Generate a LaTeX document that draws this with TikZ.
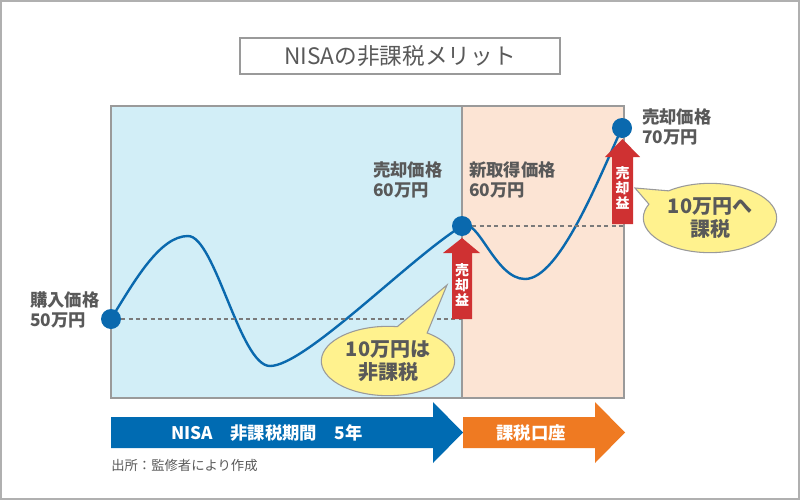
\documentclass[tikz,border=0pt]{standalone}
\usepackage{fontspec}
\setmainfont{Noto Sans CJK JP}
\usepackage{tikz}
\usetikzlibrary{shapes.callouts,calc}
\definecolor{txtgray}{HTML}{595959}
\definecolor{framegray}{HTML}{9A9A9A}
\definecolor{outergray}{HTML}{B0B0B0}
\definecolor{nisablue}{HTML}{D2EEF7}
\definecolor{taxpeach}{HTML}{FCE4D4}
\definecolor{lineblue}{HTML}{0A69AE}
\definecolor{gainred}{HTML}{CF3132}
\definecolor{noteyellow}{HTML}{FFF28E}
\definecolor{barblue}{HTML}{006BB2}
\definecolor{barorange}{HTML}{EF7A22}

\begin{document}
\begin{tikzpicture}[x=0.75pt, y=-0.75pt,
  price/.style={anchor=west, align=left, inner sep=0pt, text=txtgray, font=\bfseries\fontsize{13}{15.5}\selectfont},
  dot/.style={circle, fill=lineblue, minimum size=15pt, inner sep=0pt},
  gaintext/.style={text=white, align=center, inner sep=0pt, font=\bfseries\fontsize{10.5}{11.5}\selectfont},
  note/.style={ellipse callout, draw=framegray, fill=noteyellow, line width=0.8pt, minimum width=100pt, minimum height=52pt, callout pointer arc=28, align=center, text=txtgray, font=\bfseries\fontsize{15}{17}\selectfont, inner sep=0pt},
  bartext/.style={text=white, inner sep=0pt, font=\bfseries\fontsize{13}{15}\selectfont}]
    \useasboundingbox (0,0) rectangle (800,500);
    \draw[outergray, line width=1.5pt] (1,1) rectangle (799,499);

    % title
    \node[draw=framegray, line width=1pt, fill=white, minimum width=240pt, minimum height=27pt, text=txtgray, font=\fontsize{17}{20}\selectfont] (title) at (400,56) {NISAの非課税メリット};

    % chart areas
    \draw[framegray, line width=1pt, fill=nisablue] (111,106) rectangle (462,398);
    \draw[framegray, line width=1pt, fill=taxpeach] (462,106) rectangle (624,398);
    \coordinate (taxR) at (624,106);

    % price path
    \coordinate (p0) at (111,319);
    \coordinate (p1) at (462,226);
    \coordinate (p2) at (622,128);
    \draw[lineblue, line width=1.8pt] (p0) .. controls (135,280) and (160,236) .. (188,236)
        .. controls (215,236) and (240,366) .. (270,366)
        .. controls (305,366) and (410,258) .. (p1)
        .. controls (478,216) and (495,279) .. (525,279)
        .. controls (560,279) and (600,175) .. (p2);

    \node[dot] (buy) at (p0) {};
    \node[dot] (sell1) at (p1) {};
    \node[dot] (sell2) at (p2) {};
    \draw[txtgray!80, line width=0.8pt, dash pattern=on 3pt off 2.5pt] (buy) -- (buy -| sell1);
    \draw[txtgray!80, line width=0.8pt, dash pattern=on 3pt off 2.5pt] (sell1) -- (sell1 -| taxR);

    % gains
    \fill[gainred] (452,319) -- (452,253) -- (443,253) -- (462,238) -- (480,253) -- (472,253) -- (472,319) -- cycle;
    \node[gaintext] (gain1) at (462,285) {売\\却\\益};
    \fill[gainred] (612,224) -- (612,157) -- (605,157) -- (622.5,139) -- (640,157) -- (633,157) -- (633,224) -- cycle;
    \node[gaintext] (gain2) at (622.5,188) {売\\却\\益};

    % labels
    \node[price] (buylbl) at (30,310) {購入価格\\50万円};
    \node[price] (sell1lbl) at (373,180) {売却価格\\60万円};
    \node[price] (newlbl) at (469,180) {新取得価格\\60万円};
    \node[price] (sell2lbl) at (642,127) {売却価格\\70万円};

    % callouts
    \node[note, callout absolute pointer={(447,285)}] (note1) at (388,361) {10万円は\\非課税};
    \node[note, callout absolute pointer={(635,188)}] (note2) at (710,218) {10万円へ\\課税};

    % periods
    \fill[barblue] (111,417) -- (433,417) -- (433,402) -- (463,432.5) -- (433,463) -- (433,448) -- (111,448) -- cycle;
    \node[bartext] (nisabar) at (267,433) {NISA　非課税期間　5年};
    \fill[barorange] (463,417) -- (595,417) -- (595,402) -- (625,432.5) -- (595,463) -- (595,448) -- (463,448) -- cycle;
    \node[bartext] (taxbar) at (531,433) {課税口座};

    \node[anchor=west, inner sep=0pt, text=txtgray, font=\fontsize{10}{12}\selectfont] (source) at (111,465) {出所：監修者により作成};
\end{tikzpicture}
\end{document}
